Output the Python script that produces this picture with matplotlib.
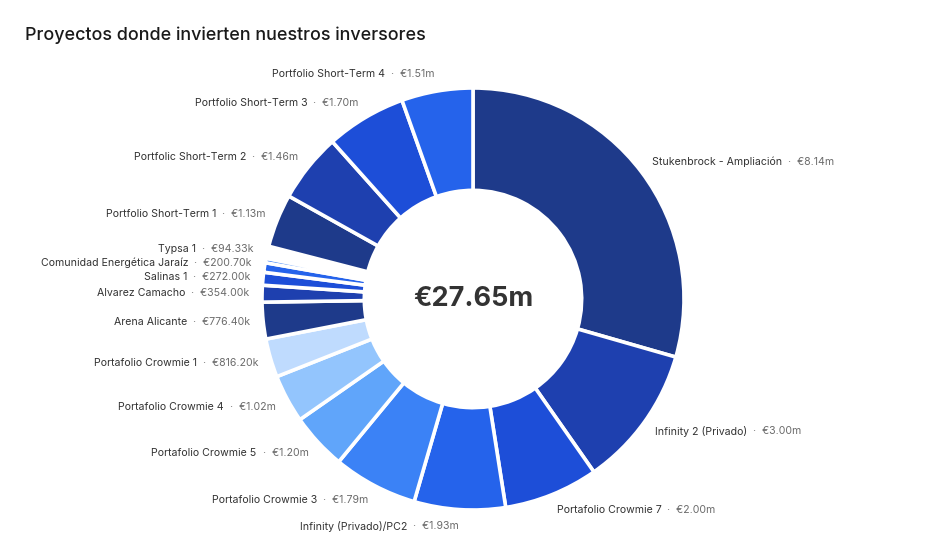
import matplotlib
matplotlib.use("Agg")
import matplotlib.pyplot as plt
import numpy as np

plt.rcParams['font.family'] = ['Inter', 'DejaVu Sans']

title = "Proyectos donde invierten nuestros inversores"

# projects in clockwise order from 12 o'clock (values in millions of euros)
projects = [
    "Stukenbrock - Ampliación", "Infinity 2 (Privado)", "Portafolio Crowmie 7",
    "Infinity (Privado)/PC2", "Portafolio Crowmie 3", "Portafolio Crowmie 5",
    "Portafolio Crowmie 4", "Portafolio Crowmie 1", "Arena Alicante",
    "Alvarez Camacho", "Salinas 1", "Comunidad Energética Jaraíz", "Typsa 1",
    "", "",
    "Portfolio Short-Term 1", "Portfolic Short-Term 2", "Portfolio Short-Term 3",
    "Portfolio Short-Term 4",
]
amounts = [
    8.14, 3.00, 2.00,
    1.93, 1.79, 1.20,
    1.02, 0.8162, 0.7764,
    0.354, 0.272, 0.2007, 0.09433,
    0.06, 0.197,
    1.13, 1.46, 1.70,
    1.51,
]
colors = [
    "#1e3a8a", "#1e40af", "#1d4ed8", "#2563eb", "#3b82f6", "#60a5fa", "#93c5fd",
    "#bfdbfe", "#1e3a8a", "#1e40af", "#1d4ed8", "#2563eb", "#3b82f6",
    "#60a5fa", "#ffffff",
    "#1e3a8a", "#1e40af", "#1d4ed8", "#2563eb",
]


def fmt(v):
    return f"€{v:.2f}m" if v >= 1 else f"€{v * 1000:.2f}k"


W, H = 944, 551
CX, CY, R = 473, 299, 211  # pixel geometry of the donut
fig = plt.figure(figsize=(W / 100, H / 100), dpi=100)
ax = fig.add_axes([0, 0, 1, 1])

wedges, _ = ax.pie(amounts, colors=colors, startangle=90, counterclock=False,
                   radius=1.0,
                   wedgeprops=dict(width=0.485, edgecolor="white", linewidth=2.6,
                                   joinstyle="round"))
ax.set_aspect("auto")
ax.set_xlim(-CX / R, (W - CX) / R)
ax.set_ylim(-(H - CY) / R, CY / R)
ax.axis("off")

total = sum(amounts)
ax.text(0, 0, f"€{total:.2f}m", ha="center", va="center", fontsize=19.5,
        fontweight="bold", color="#333333")

fig.text(25 / W, 1 - 35 / H, title, ha="left", va="center", fontsize=12.9,
         fontweight="medium", color="#1a1a1a")

# label positions
labels = []
for w, name, v in zip(wedges, projects, amounts):
    if not name:
        continue
    th = np.deg2rad((w.theta1 + w.theta2) / 2)
    x = 1.06 * np.cos(th)
    y = 1.08 * np.sin(th)
    labels.append([name, v, x, y, np.cos(th) >= 0])

# simple overlap avoidance on the left side, pushing upward
gap = 14 / R
left = sorted([l for l in labels if not l[4]], key=lambda l: l[3])
for i in range(1, len(left)):
    if left[i][3] < left[i - 1][3] + gap:
        left[i][3] = left[i - 1][3] + gap

fig.canvas.draw()
renderer = fig.canvas.get_renderer()
inv = ax.transData.inverted()
fs = 7.6
for name, v, x, y, right in labels:
    val = "  ·  " + fmt(v)
    if right:
        t1 = ax.text(x, y, name, ha="left", va="center", fontsize=fs, color="#333333")
        bb = t1.get_window_extent(renderer)
        x2 = inv.transform((bb.x1, 0))[0]
        ax.text(x2, y, val, ha="left", va="center", fontsize=fs, color="#6b6b6b")
    else:
        t2 = ax.text(x, y, val, ha="right", va="center", fontsize=fs, color="#6b6b6b")
        bb = t2.get_window_extent(renderer)
        x1 = inv.transform((bb.x0, 0))[0]
        ax.text(x1, y, name, ha="right", va="center", fontsize=fs, color="#333333")

fig.savefig("out.png", dpi=100, facecolor="white")
